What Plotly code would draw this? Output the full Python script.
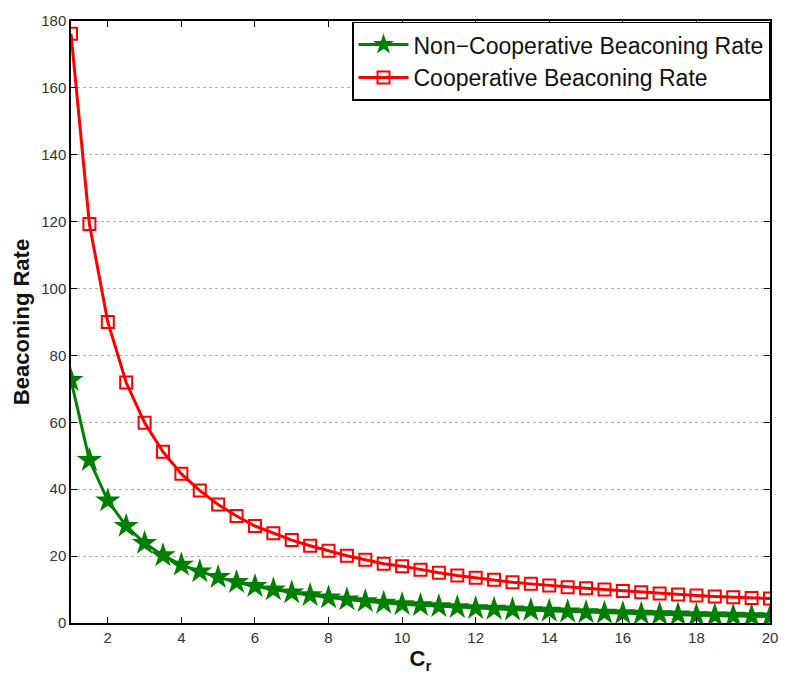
import plotly.graph_objects as go

cr = [1 + 0.5 * i for i in range(39)]

non_coop = [72.6, 48.7, 36.6, 29.0, 23.9, 20.2, 17.4, 15.4, 13.7, 12.2,
            11.0, 10.0, 9.1, 8.3, 7.6, 7.0, 6.5, 6.0, 5.6, 5.3,
            5.0, 4.7, 4.4, 4.2, 4.0, 3.8, 3.6, 3.4, 3.2, 3.0,
            2.9, 2.7, 2.6, 2.5, 2.3, 2.2, 2.1, 2.0, 1.9]

coop = [176.2, 119.3, 90.0, 71.9, 59.9, 51.2, 44.6, 39.6, 35.4, 32.0,
        29.0, 26.8, 24.8, 23.1, 21.6, 20.1, 18.9, 17.7, 17.0, 15.9,
        15.0, 14.2, 13.5, 12.9, 12.2, 11.7, 11.2, 10.7, 10.4, 10.0,
        9.6, 9.2, 8.8, 8.5, 8.2, 7.9, 7.7, 7.5, 7.3]

x_ticks = [2, 4, 6, 8, 10, 12, 14, 16, 18, 20]
y_ticks = [0, 20, 40, 60, 80, 100, 120, 140, 160, 180]

FONT = "Liberation Sans, Arial, Helvetica, sans-serif"

fig = go.Figure()
fig.add_trace(go.Scatter(
    x=cr, y=non_coop, mode="lines+markers",
    name="Non\u2212Cooperative Beaconing Rate",
    line=dict(color="#008000", width=3),
    marker=dict(symbol="star", size=19, color="#008000",
                line=dict(color="#008000", width=0)),
))
fig.add_trace(go.Scatter(
    x=cr, y=coop, mode="lines+markers",
    name="Cooperative Beaconing Rate",
    line=dict(color="#ff0000", width=3),
    marker=dict(symbol="square-open", size=12, color="#ff0000",
                line=dict(color="#ff0000", width=2)),
))

fig.update_layout(
    width=790, height=682,
    margin=dict(l=71, r=13, t=15, b=59),
    paper_bgcolor="white", plot_bgcolor="white",
    font=dict(family=FONT, color="#222222"),
    showlegend=True,
    legend=dict(
        x=1.0, y=0.999, xanchor="right", yanchor="top",
        bgcolor="white", bordercolor="black", borderwidth=1.5,
        font=dict(size=23, family=FONT, color="#111111"),
        tracegroupgap=0, itemwidth=50,
    ),
    xaxis=dict(
        range=[1, 20], tickvals=x_ticks, ticktext=[str(v) for v in x_ticks],
        showgrid=False, zeroline=False,
        showline=True, linecolor="black", linewidth=1.5, mirror="ticks",
        ticks="inside", ticklen=6, tickcolor="black", tickwidth=1,
        tickfont=dict(size=15, color="#333333"),
        title=dict(text="<b>C<sub>r</sub></b>", font=dict(size=22, color="#111111"), standoff=6),
    ),
    yaxis=dict(
        range=[0, 180], tickvals=y_ticks, ticktext=[str(v) for v in y_ticks],
        showgrid=True, gridcolor="#b0b0b0", griddash="dot", gridwidth=1,
        zeroline=False,
        showline=True, linecolor="black", linewidth=1.5, mirror="ticks",
        ticks="inside", ticklen=6, tickcolor="black", tickwidth=1,
        tickfont=dict(size=15, color="#333333"),
        title=dict(text="<b>Beaconing Rate</b>", font=dict(size=22, color="#111111"), standoff=6),
    ),
)

fig.write_html("out.html")
